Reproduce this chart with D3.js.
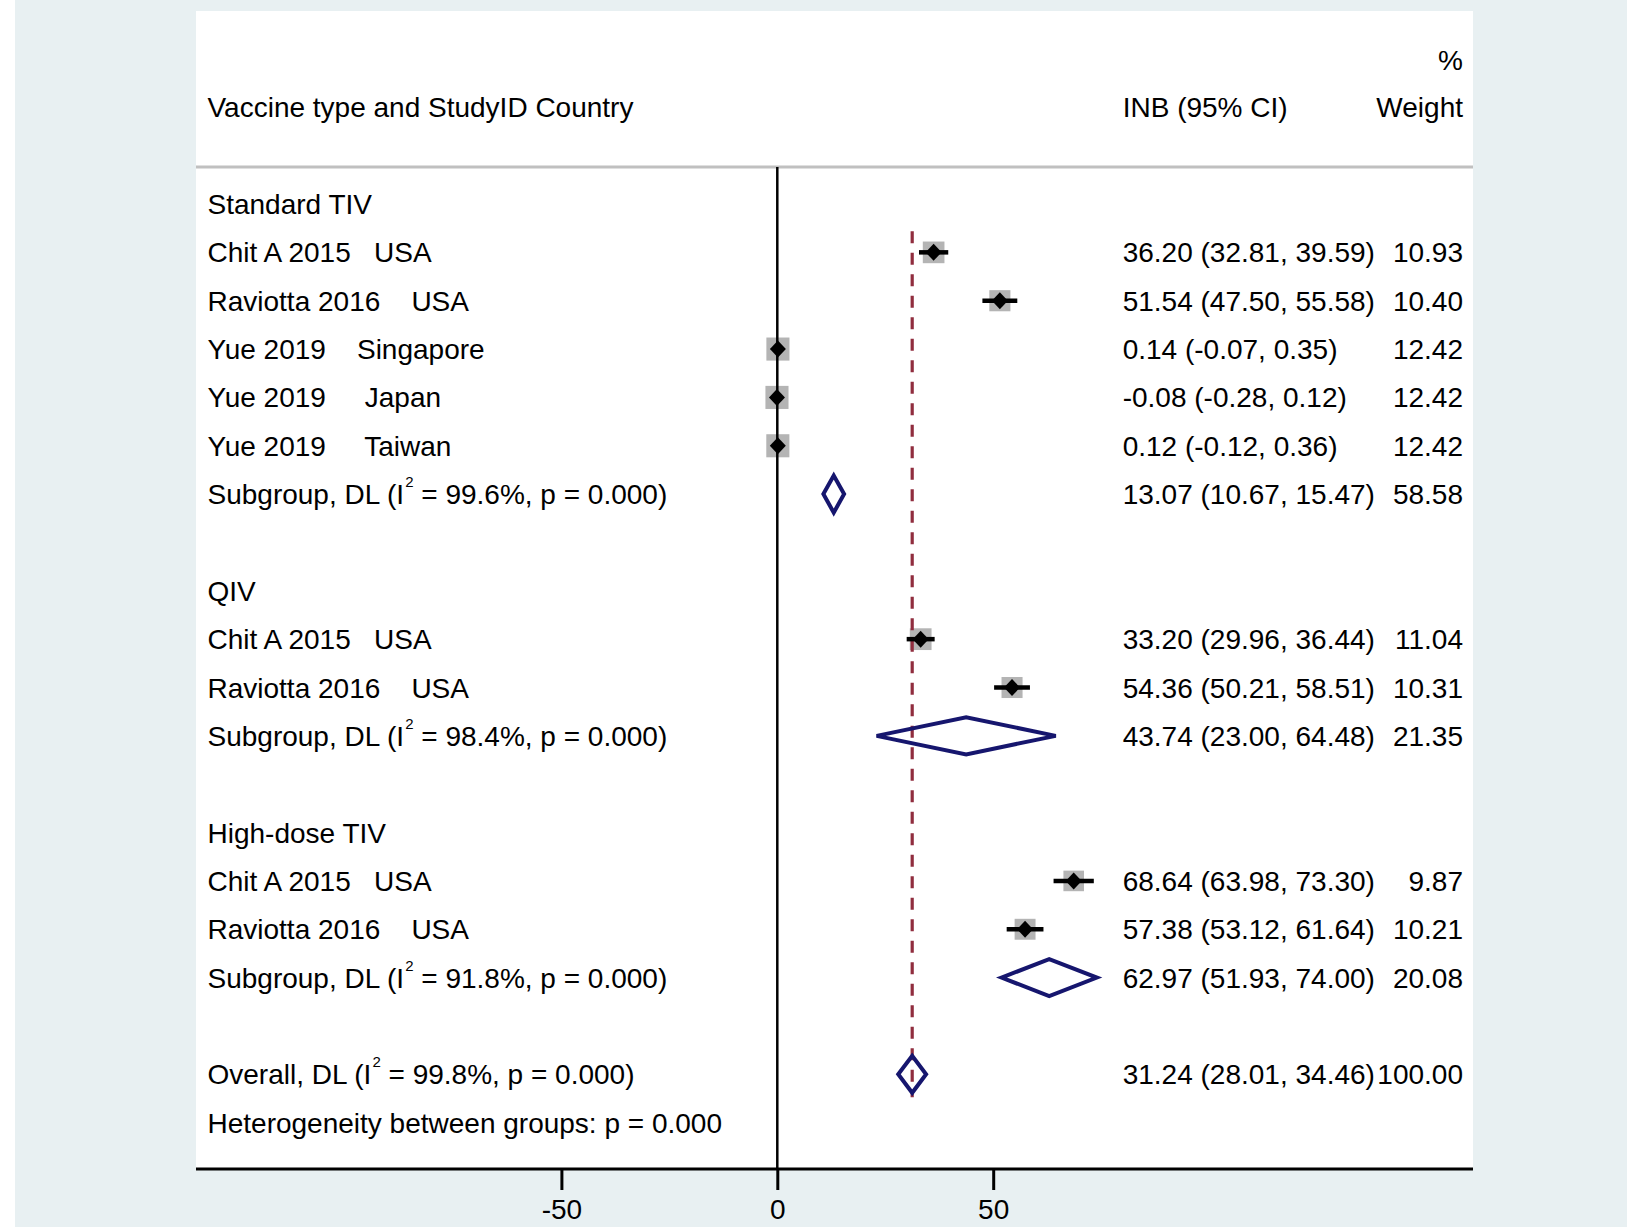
<!DOCTYPE html>
<html>
<head>
<meta charset="utf-8">
<script src="https://cdn.jsdelivr.net/npm/d3@7"></script>
<style>
html, body { margin: 0; padding: 0; background: #ffffff; }
svg { display: block; }
text { font-family: "Liberation Sans", Arial, Helvetica, sans-serif; fill: #000; white-space: pre; }
</style>
</head>
<body>
<svg id="chart" width="1627" height="1227"></svg>
<script>
// ---- data ----
const groupLabels = ["Standard TIV", "QIV", "High-dose TIV"];
const studyGroup = [0, 0, 0, 0, 0, 1, 1, 2, 2];
const studyLabels = [
  "Chit A 2015   USA",
  "Raviotta 2016    USA",
  "Yue 2019    Singapore",
  "Yue 2019     Japan",
  "Yue 2019     Taiwan",
  "Chit A 2015   USA",
  "Raviotta 2016    USA",
  "Chit A 2015   USA",
  "Raviotta 2016    USA"
];
const inb   = [36.20, 51.54, 0.14, -0.08, 0.12, 33.20, 54.36, 68.64, 57.38];
const lower = [32.81, 47.50, -0.07, -0.28, -0.12, 29.96, 50.21, 63.98, 53.12];
const upper = [39.59, 55.58, 0.35, 0.12, 0.36, 36.44, 58.51, 73.30, 61.64];
const weights = [10.93, 10.40, 12.42, 12.42, 12.42, 11.04, 10.31, 9.87, 10.21];

const subEst = [13.07, 43.74, 62.97];
const subLo  = [10.67, 23.00, 51.93];
const subHi  = [15.47, 64.48, 74.00];
const subW   = [58.58, 21.35, 20.08];
const subI2  = ["99.6%", "98.4%", "91.8%"];
const subP   = ["0.000", "0.000", "0.000"];

const overallEst = 31.24, overallLo = 28.01, overallHi = 34.46, overallW = 100.00;
const overallI2 = "99.8%", overallP = "0.000";
const betweenP = "0.000";

const tickValues = [-50, 0, 50];
const headerLeft = "Vaccine type and StudyID Country";
const headerEffect = "INB (95% CI)";
const headerW1 = "%";
const headerW2 = "Weight";

// ---- layout ----
const W = 1627, H = 1227;
const panel = { x0: 196, x1: 1473, y0: 11, y1: 1169 };
const fs = 28;
const textX = 207.5, numX = 1122.7, wX = 1463;

const loc = d3.formatLocale({ decimal: ".", thousands: ",", grouping: [3], currency: ["", ""], minus: "-" });
const f2 = loc.format(".2f");
const fInt = loc.format("d");
const x = d3.scaleLinear().domain([0, 50]).range([777.3, 993.2]);
const y = d3.scaleLinear().domain([0, 1]).range([204, 252.35]);

// build row list
const rows = [];
let r = 0;
groupLabels.forEach((g, gi) => {
  rows.push({ type: "group", row: r++, label: g });
  studyGroup.forEach((sg, i) => {
    if (sg === gi) rows.push({ type: "study", row: r++, i });
  });
  rows.push({ type: "sub", row: r++, gi });
  r++; // blank
});
const overallRow = r;
const hetRow = r + 1;

const svg = d3.select("#chart");
svg.append("rect").attr("x", 0).attr("y", 0).attr("width", W).attr("height", H).attr("fill", "#ffffff");
svg.append("rect").attr("x", 15).attr("y", 0).attr("width", W - 15).attr("height", H).attr("fill", "#e8f0f2");
svg.append("rect").attr("x", panel.x0).attr("y", panel.y0).attr("width", panel.x1 - panel.x0).attr("height", panel.y1 - panel.y0).attr("fill", "#ffffff");

// header
svg.append("text").attr("x", wX).attr("y", y(-3) + 11).attr("text-anchor", "end").attr("font-size", fs).text(headerW1);
svg.append("text").attr("x", wX).attr("y", y(-2) + 10).attr("text-anchor", "end").attr("font-size", fs).text(headerW2);
svg.append("text").attr("x", textX).attr("y", y(-2) + 10).attr("font-size", fs).text(headerLeft);
svg.append("text").attr("x", numX).attr("y", y(-2) + 10).attr("font-size", fs).text(headerEffect);
svg.append("line").attr("x1", panel.x0).attr("x2", panel.x1).attr("y1", 167).attr("y2", 167)
  .attr("stroke", "#c0c0c0").attr("stroke-width", 3);

const navy = "#16166e";
const studyRows = rows.filter(d => d.type === "study");
const subRows = rows.filter(d => d.type === "sub");

// gray weight squares
svg.append("g").selectAll("rect").data(studyRows).join("rect")
  .attr("x", d => x(inb[d.i]) - 3.27 * Math.sqrt(weights[d.i]))
  .attr("y", d => y(d.row) - 3.27 * Math.sqrt(weights[d.i]))
  .attr("width", d => 6.55 * Math.sqrt(weights[d.i]))
  .attr("height", d => 6.55 * Math.sqrt(weights[d.i]))
  .attr("fill", "#b4b4b4");

// zero line
svg.append("line").attr("x1", x(0)).attr("x2", x(0)).attr("y1", 167).attr("y2", panel.y1)
  .attr("stroke", "#000").attr("stroke-width", 2.5);

// overall dashed line
svg.append("line").attr("x1", x(overallEst)).attr("x2", x(overallEst))
  .attr("y1", y(1) - 21).attr("y2", y(overallRow) + 23)
  .attr("stroke", "#902d3e").attr("stroke-width", 3.2).attr("stroke-dasharray", "12,9.5");

// CI lines
svg.append("g").selectAll("line").data(studyRows).join("line")
  .attr("x1", d => x(lower[d.i])).attr("x2", d => x(upper[d.i]))
  .attr("y1", d => y(d.row)).attr("y2", d => y(d.row))
  .attr("stroke", "#000").attr("stroke-width", 4.5);

// point estimate markers
svg.append("g").selectAll("path").data(studyRows).join("path")
  .attr("d", d => {
    const cx = x(inb[d.i]), cy = y(d.row);
    return `M${cx - 8},${cy} L${cx},${cy - 8.5} L${cx + 8},${cy} L${cx},${cy + 8.5} Z`;
  })
  .attr("fill", "#000");

// subgroup + overall diamonds
const diamonds = subRows.map(d => ({ row: d.row, est: subEst[d.gi], lo: subLo[d.gi], hi: subHi[d.gi] }));
diamonds.push({ row: overallRow, est: overallEst, lo: overallLo, hi: overallHi });
svg.append("g").selectAll("path").data(diamonds).join("path")
  .attr("d", d => {
    const cy = y(d.row), h = 18.5;
    return `M${x(d.lo)},${cy} L${x(d.est)},${cy - h} L${x(d.hi)},${cy} L${x(d.est)},${cy + h} Z`;
  })
  .attr("fill", "none").attr("stroke", navy).attr("stroke-width", 4).attr("stroke-linejoin", "miter");

// text labels
const tg = svg.append("g").attr("font-size", fs);
rows.filter(d => d.type === "group").forEach(d => {
  tg.append("text").attr("x", textX).attr("y", y(d.row) + 10).text(d.label);
});
studyRows.forEach(d => {
  tg.append("text").attr("x", textX).attr("y", y(d.row) + 10).text(studyLabels[d.i]);
  tg.append("text").attr("x", numX).attr("y", y(d.row) + 10)
    .text(`${f2(inb[d.i])} (${f2(lower[d.i])}, ${f2(upper[d.i])})`);
  tg.append("text").attr("x", wX).attr("y", y(d.row) + 10).attr("text-anchor", "end").text(f2(weights[d.i]));
});

function hetLabel(prefix, i2, p, row) {
  const t = tg.append("text").attr("x", textX).attr("y", y(row) + 10);
  t.append("tspan").text(prefix + " (I");
  t.append("tspan").attr("font-size", 15).attr("dx", 1).attr("dy", -17).text("2");
  t.append("tspan").attr("dy", 17).text(` = ${i2}, p = ${p})`);
}
subRows.forEach(d => {
  hetLabel("Subgroup, DL", subI2[d.gi], subP[d.gi], d.row);
  tg.append("text").attr("x", numX).attr("y", y(d.row) + 10)
    .text(`${f2(subEst[d.gi])} (${f2(subLo[d.gi])}, ${f2(subHi[d.gi])})`);
  tg.append("text").attr("x", wX).attr("y", y(d.row) + 10).attr("text-anchor", "end").text(f2(subW[d.gi]));
});
hetLabel("Overall, DL", overallI2, overallP, overallRow);
tg.append("text").attr("x", numX).attr("y", y(overallRow) + 10)
  .text(`${f2(overallEst)} (${f2(overallLo)}, ${f2(overallHi)})`);
tg.append("text").attr("x", wX).attr("y", y(overallRow) + 10).attr("text-anchor", "end").text(f2(overallW));
tg.append("text").attr("x", textX).attr("y", y(hetRow) + 10).text(`Heterogeneity between groups: p = ${betweenP}`);

// x axis
const axis = d3.axisBottom(x).tickValues(tickValues).tickSize(21).tickPadding(0).tickFormat(fInt);
const ag = svg.append("g").attr("transform", `translate(0,${panel.y1})`).call(axis);
ag.select(".domain").remove();
ag.selectAll(".tick line").attr("stroke", "#000").attr("stroke-width", 3);
ag.selectAll(".tick text").attr("font-size", fs).attr("font-family", "'Liberation Sans', Arial, sans-serif")
  .attr("fill", "#000").attr("dy", null).attr("y", 50);
svg.append("line").attr("x1", panel.x0).attr("x2", panel.x1).attr("y1", panel.y1).attr("y2", panel.y1)
  .attr("stroke", "#000").attr("stroke-width", 3);
</script>
</body>
</html>
